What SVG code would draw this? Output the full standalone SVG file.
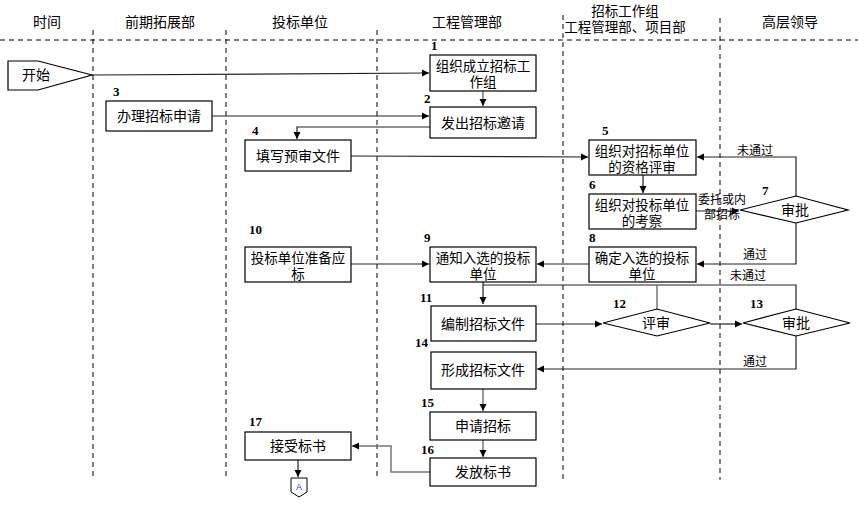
<svg xmlns="http://www.w3.org/2000/svg" width="858" height="509" viewBox="0 0 858 509">
<defs>
<marker id="ah" markerWidth="8" markerHeight="8" refX="7" refY="4" orient="auto" markerUnits="userSpaceOnUse">
<path d="M0,0.5 L7,4 L0,7.5 Z" fill="#000"/>
</marker>
<style>
.lane{stroke:#000;stroke-width:1;stroke-dasharray:5,4;fill:none}
.box{fill:#fff;stroke:#000;stroke-width:1.2}
.t{font-family:"Liberation Sans","Noto Sans CJK SC",sans-serif;font-size:14px;fill:#000;text-anchor:middle}
.t2{font-family:"Liberation Sans","Noto Sans CJK SC",sans-serif;font-size:13.5px;fill:#000;text-anchor:middle}
.h{font-family:"Liberation Sans","Noto Sans CJK SC",sans-serif;font-size:14px;fill:#000;text-anchor:middle}
.n{font-family:"Liberation Serif",serif;font-size:13px;font-weight:bold;fill:#000}
.lb{font-family:"Liberation Sans","Noto Sans CJK SC",sans-serif;font-size:12px;fill:#000;text-anchor:middle}
.c{fill:none;stroke:#222;stroke-width:1.2}
.g{fill:none;stroke:#777;stroke-width:1.5}
</style>
</defs>
<rect width="858" height="509" fill="#fff"/>
<g id="lanes">
<line class="lane" x1="0" y1="40" x2="858" y2="40"/>
<line class="lane" x1="93" y1="30" x2="93" y2="480"/>
<line class="lane" x1="226" y1="30" x2="226" y2="480"/>
<line class="lane" x1="377" y1="30" x2="377" y2="480"/>
<line class="lane" x1="563" y1="15" x2="563" y2="480"/>
<line class="lane" x1="720" y1="18" x2="720" y2="480"/>
<text class="h" x="47" y="27">时间</text>
<text class="h" x="160" y="27">前期拓展部</text>
<text class="h" x="300" y="27">投标单位</text>
<text class="h" x="467" y="27">工程管理部</text>
<text class="t2" y="16"><tspan x="625">招标工作组</tspan><tspan x="625" y="32">工程管理部、项目部</tspan></text>
<text class="h" x="790" y="27">高层领导</text>
</g>
<g id="connectors">
<line class="c" x1="92" y1="75" x2="429" y2="73" marker-end="url(#ah)"/>
<line class="g" x1="483" y1="91" x2="483" y2="106" marker-end="url(#ah)"/>
<line class="c" x1="212" y1="116" x2="429" y2="116" marker-end="url(#ah)"/>
<polyline class="c" points="430,127 297,127 297,139" marker-end="url(#ah)"/>
<line class="c" x1="351" y1="156" x2="588" y2="157" marker-end="url(#ah)"/>
<line class="c" x1="643" y1="175" x2="643" y2="193" marker-end="url(#ah)"/>
<line class="c" x1="696" y1="211" x2="739" y2="211" marker-end="url(#ah)"/>
<polyline class="c" points="796,196 796,157 697,157" marker-end="url(#ah)"/>
<polyline class="c" points="796,223 796,264 697,264" marker-end="url(#ah)"/>
<line class="c" x1="589" y1="264" x2="537" y2="264" marker-end="url(#ah)"/>
<line class="c" x1="351" y1="264" x2="429" y2="264" marker-end="url(#ah)"/>
<line class="c" x1="483" y1="282" x2="483" y2="304" stroke-width="2" marker-end="url(#ah)"/>
<polyline class="c" points="483,285 796,285 796,309"/>
<line class="g" x1="657" y1="285" x2="657" y2="309"/>
<line class="c" x1="536" y1="324" x2="602" y2="324" marker-end="url(#ah)"/>
<line class="c" x1="710" y1="324" x2="742" y2="324" marker-end="url(#ah)"/>
<polyline class="c" points="796,336 796,369 537,369" marker-end="url(#ah)"/>
<line class="g" x1="483" y1="389" x2="483" y2="411" marker-end="url(#ah)"/>
<line class="g" x1="483" y1="440" x2="483" y2="457" marker-end="url(#ah)"/>
<polyline class="g" points="430,472 391,472 391,446 352,446" marker-end="url(#ah)"/>
<line class="c" x1="298" y1="460" x2="298" y2="477" marker-end="url(#ah)"/>
<text class="lb" x="755" y="155">未通过</text>
<text class="lb" font-size="11.5" y="204"><tspan x="722">委托或内</tspan><tspan x="722" y="219">部招标</tspan></text>
<text class="lb" x="755" y="259">通过</text>
<text class="lb" x="748" y="280">未通过</text>
<text class="lb" x="755" y="366">通过</text>
</g>
<g id="start">
<path d="M8,61 L38,61 L92,75 L38,90 L8,90 Z" fill="#fff" stroke="#000" stroke-width="1.2"/>
<text class="t" x="36" y="80">开始</text>
</g>
<g id="n1">
<text class="n" x="431" y="50">1</text>
<rect class="box" x="430" y="55" width="106" height="36"/>
<text class="t2" y="71"><tspan x="483">组织成立招标工</tspan><tspan x="483" y="87">作组</tspan></text>
</g>
<g id="n2">
<text class="n" x="424" y="103">2</text>
<rect class="box" x="430" y="107" width="106" height="31"/>
<text class="t" x="483" y="128">发出招标邀请</text>
</g>
<g id="n3">
<text class="n" x="113" y="96">3</text>
<rect class="box" x="106" y="101" width="106" height="30"/>
<text class="t" x="159" y="121">办理招标申请</text>
</g>
<g id="n4">
<text class="n" x="252" y="135">4</text>
<rect class="box" x="245" y="140" width="106" height="31"/>
<text class="t" x="298" y="161">填写预审文件</text>
</g>
<g id="n5">
<text class="n" x="602" y="135">5</text>
<rect class="box" x="589" y="140" width="107" height="35"/>
<text class="t2" y="156"><tspan x="642">组织对招标单位</tspan><tspan x="642" y="172">的资格评审</tspan></text>
</g>
<g id="n6">
<text class="n" x="589" y="189">6</text>
<rect class="box" x="589" y="194" width="107" height="35"/>
<text class="t2" y="210"><tspan x="642">组织对投标单位</tspan><tspan x="642" y="226">的考察</tspan></text>
</g>
<g id="n7">
<text class="n" x="762" y="195">7</text>
<path d="M740,210 L796,196 L848,210 L796,223 Z" fill="#fff" stroke="#000" stroke-width="1.2"/>
<text class="t" x="795" y="215">审批</text>
</g>
<g id="n8">
<text class="n" x="589" y="242">8</text>
<rect class="box" x="589" y="247" width="107" height="35"/>
<text class="t2" y="263"><tspan x="642">确定入选的投标</tspan><tspan x="642" y="279">单位</tspan></text>
</g>
<g id="n9">
<text class="n" x="424" y="242">9</text>
<rect class="box" x="430" y="247" width="106" height="35"/>
<text class="t2" y="263"><tspan x="483">通知入选的投标</tspan><tspan x="483" y="279">单位</tspan></text>
</g>
<g id="n10">
<text class="n" x="249" y="234">10</text>
<rect class="box" x="245" y="247" width="106" height="35"/>
<text class="t2" y="263"><tspan x="298">投标单位准备应</tspan><tspan x="298" y="279">标</tspan></text>
</g>
<g id="n11">
<text class="n" x="420" y="302">11</text>
<rect class="box" x="431" y="306" width="105" height="35"/>
<text class="t" x="483" y="329">编制招标文件</text>
</g>
<g id="n12">
<text class="n" x="613" y="308">12</text>
<path d="M603,323 L657,309 L710,323 L657,336 Z" fill="#fff" stroke="#000" stroke-width="1.2"/>
<text class="t" x="656" y="328">评审</text>
</g>
<g id="n13">
<text class="n" x="750" y="308">13</text>
<path d="M743,323 L796,309 L850,323 L796,336 Z" fill="#fff" stroke="#000" stroke-width="1.2"/>
<text class="t" x="796" y="328">审批</text>
</g>
<g id="n14">
<text class="n" x="415" y="347">14</text>
<rect class="box" x="431" y="352" width="105" height="37"/>
<text class="t" x="483" y="375">形成招标文件</text>
</g>
<g id="n15">
<text class="n" x="421" y="407">15</text>
<rect class="box" x="430" y="412" width="106" height="28"/>
<text class="t" x="483" y="431">申请招标</text>
</g>
<g id="n16">
<text class="n" x="421" y="454">16</text>
<rect class="box" x="430" y="458" width="106" height="28"/>
<text class="t" x="483" y="477">发放标书</text>
</g>
<g id="n17">
<text class="n" x="249" y="426">17</text>
<rect class="box" x="245" y="432" width="106" height="28"/>
<text class="t" x="298" y="451">接受标书</text>
</g>
<g id="offpage">
<path d="M291,478 L307,478 L307,492 L299,497 L291,492 Z" fill="#fff" stroke="#000" stroke-width="1"/>
<text x="299" y="490" font-family="Liberation Sans, sans-serif" font-size="9" fill="#1a4fa0" text-anchor="middle">A</text>
</g>
</svg>
